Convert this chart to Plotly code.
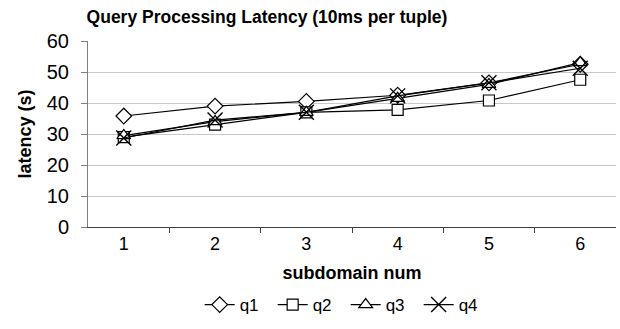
import plotly.graph_objects as go

categories = ["1", "2", "3", "4", "5", "6"]
q1 = [35.8, 39.0, 40.5, 42.5, 46.5, 52.5]
q2 = [29.0, 33.0, 37.0, 37.8, 40.8, 47.5]
q3 = [29.5, 34.0, 37.0, 41.5, 46.0, 53.0]
q4 = [28.7, 34.5, 37.0, 42.3, 46.5, 51.2]
y_ticks = [0, 10, 20, 30, 40, 50, 60]

FONT = "Liberation Sans, Arial, sans-serif"

series = [
    ("q1", q1, "diamond", 12),
    ("q2", q2, "square", 11),
    ("q3", q3, "triangle-up", 12),
    ("q4", q4, "x-thin", 15),
]

fig = go.Figure()
for name, vals, sym, size in series:
    marker = dict(symbol=sym, size=size, color="white",
                  line=dict(color="black", width=1.2))
    if sym == "x-thin":
        marker = dict(symbol=sym, size=size, color="black",
                      line=dict(color="black", width=1.4))
    fig.add_trace(go.Scatter(
        x=categories, y=vals, name=name, mode="lines+markers",
        line=dict(color="black", width=1.2), marker=marker,
    ))

fig.update_layout(
    width=620, height=329,
    margin=dict(l=88, r=4, t=41, b=102),
    paper_bgcolor="white", plot_bgcolor="white",
    font=dict(family=FONT, size=17, color="black"),
    title=dict(text="<b>Query Processing Latency (10ms per tuple)</b>",
               x=267 / 620, xanchor="center", y=1 - 17 / 329, yanchor="middle",
               xref="container", yref="container",
               font=dict(size=17.5)),
    showlegend=True,
    legend=dict(orientation="h", x=0.488, xanchor="center",
                y=(227 - 305) / 186, yanchor="middle",
                font=dict(size=17), itemwidth=30, tracegroupgap=0,
                entrywidth=28, entrywidthmode="pixels"),
)
fig.update_xaxes(
    type="category", categoryorder="array", categoryarray=categories,
    tickson="boundaries", ticks="outside", ticklen=5, tickcolor="#404040",
    showline=True, linecolor="#404040", linewidth=1,
    showgrid=False, zeroline=False, automargin=False,
    title=dict(text="<b>subdomain num</b>", standoff=13, font=dict(size=18)),
    tickfont=dict(size=18),
)
fig.update_yaxes(
    range=[0, 60], tickvals=y_ticks, ticks="outside", ticklen=6,
    tickcolor="#808080", showline=True, linecolor="#808080", linewidth=1,
    showgrid=True, gridcolor="#c8c8c8", gridwidth=1, zeroline=False,
    automargin=False, ticklabelstandoff=8,
    title=dict(text="<b>latency (s)</b>", standoff=10, font=dict(size=18)),
    tickfont=dict(size=20),
)

fig.write_html("out.html", config={"displayModeBar": False},
               post_script="document.body.style.margin='0';")
